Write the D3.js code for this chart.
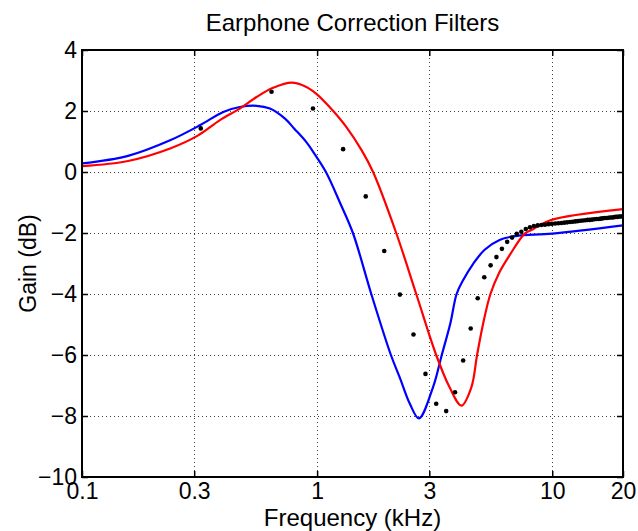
<!DOCTYPE html>
<html>
<head>
<meta charset="utf-8">
<script src="https://cdn.jsdelivr.net/npm/d3@7"></script>
<style>
  body { margin: 0; background: #fff; }
  text { font-family: "Liberation Sans", Arial, Helvetica, sans-serif; fill: #000; }
</style>
</head>
<body>
<div id="chart"></div>
<script>
// axis ticks
const xTicks = [0.1, 0.3, 1, 3, 10, 20];
const yTicks = [-10, -8, -6, -4, -2, 0, 2, 4];

// red filter
const redFreq = [0.1, 0.157, 0.237, 0.312, 0.386, 0.469, 0.553, 0.65, 0.778, 0.9, 0.99, 1.13, 1.33, 1.55, 1.73, 2.17, 2.64, 3.21, 3.66, 4.11, 4.53, 4.79, 5.08, 5.46, 5.95, 6.6, 7.64, 8.28, 9.75, 20];
const redGain = [0.19, 0.36, 0.77, 1.2, 1.7, 2.08, 2.46, 2.76, 2.93, 2.79, 2.57, 2.13, 1.48, 0.7, 0.0, -2.0, -4.0, -6.0, -7.06, -7.66, -7.06, -6.0, -4.98, -4.0, -3.3, -2.72, -2.02, -1.88, -1.59, -1.22];

// blue filter
const blueFreq = [0.1, 0.157, 0.237, 0.317, 0.399, 0.469, 0.553, 0.63, 0.73, 0.8, 0.9, 0.97, 1.09, 1.25, 1.42, 1.7, 2.06, 2.25, 2.48, 2.71, 3.11, 3.39, 3.69, 3.92, 4.17, 4.61, 5.16, 6.0, 7.0, 10, 20];
const blueGain = [0.28, 0.53, 1.04, 1.53, 1.97, 2.13, 2.17, 2.08, 1.75, 1.42, 0.98, 0.62, 0.0, -1.0, -2.0, -4.0, -6.0, -6.75, -7.6, -8.08, -7.06, -6.0, -4.95, -4.0, -3.56, -3.01, -2.55, -2.22, -2.1, -2.02, -1.75];

// measured points (black dots)
const dotFreq = [0.32, 0.64, 0.96, 1.29, 1.61, 1.93, 2.25, 2.57, 2.89, 3.21, 3.54, 3.86, 4.18, 4.5, 4.82, 5.14, 5.47, 5.79, 6.11, 6.43, 6.75, 7.07, 7.39, 7.72,
  8.04, 8.36, 8.68, 9.0, 9.32, 9.65, 9.97, 10.29, 10.61, 10.93, 11.25, 11.57, 11.9, 12.22, 12.54, 12.86, 13.18, 13.5, 13.83,
  14.15, 14.47, 14.79, 15.11, 15.43, 15.75, 16.08, 16.4, 16.72, 17.04, 17.36, 17.68, 18.0, 18.33, 18.65, 18.97, 19.29, 19.61, 19.93];
const dotGain = [1.43, 2.63, 2.08, 0.75, -0.8, -2.59, -4.02, -5.33, -6.62, -7.6, -7.84, -7.22, -6.18, -5.13, -4.14, -3.45, -3.06, -2.79, -2.52, -2.29, -2.15, -2.03, -1.96, -1.87,
  -1.81, -1.77, -1.75, -1.74, -1.73, -1.71, -1.7, -1.69, -1.68, -1.67, -1.66, -1.65, -1.64, -1.63, -1.62, -1.61, -1.6, -1.59, -1.58,
  -1.57, -1.57, -1.56, -1.55, -1.54, -1.54, -1.53, -1.52, -1.51, -1.51, -1.5, -1.49, -1.49, -1.48, -1.47, -1.47, -1.46, -1.46, -1.45];

const width = 638, height = 531;
const plotL = 82, plotR = 623, plotT = 50, plotB = 477;

const svg = d3.select("#chart").append("svg")
    .attr("width", width)
    .attr("height", height);

const x = d3.scaleLog().domain([0.1, 20]).range([plotL, plotR]);
const y = d3.scaleLinear().domain([-10, 4]).range([plotB, plotT]);

svg.append("clipPath").attr("id", "plot-clip")
  .append("rect")
    .attr("x", plotL).attr("y", plotT)
    .attr("width", plotR - plotL).attr("height", plotB - plotT);

// dotted grid
const grid = svg.append("g")
    .attr("stroke", "#000")
    .attr("stroke-width", 1)
    .attr("stroke-dasharray", "1,3")
    .attr("opacity", 0.75);

grid.selectAll("line.v")
  .data(xTicks.filter(d => d > 0.1 && d < 20))
  .join("line")
    .attr("class", "v")
    .attr("x1", d => Math.round(x(d)) + 0.5).attr("x2", d => Math.round(x(d)) + 0.5)
    .attr("y1", plotT).attr("y2", plotB);

grid.selectAll("line.h")
  .data(yTicks.filter(d => d > -10 && d < 4))
  .join("line")
    .attr("class", "h")
    .attr("y1", d => Math.round(y(d)) + 0.5).attr("y2", d => Math.round(y(d)) + 0.5)
    .attr("x1", plotL).attr("x2", plotR);

// filter curves
function toPoints(fs, gs) {
    return fs.map((f, i) => [f, gs[i]]);
}

const line = d3.line()
    .x(d => x(d[0]))
    .y(d => y(d[1]))
    .curve(d3.curveCatmullRom.alpha(0.5));

const plot = svg.append("g").attr("clip-path", "url(#plot-clip)");

plot.append("path")
    .datum(toPoints(blueFreq, blueGain))
    .attr("fill", "none")
    .attr("stroke", "#0000ff")
    .attr("stroke-width", 2.2)
    .attr("d", line);

plot.append("path")
    .datum(toPoints(redFreq, redGain))
    .attr("fill", "none")
    .attr("stroke", "#ff0000")
    .attr("stroke-width", 2.2)
    .attr("d", line);

plot.selectAll("circle")
  .data(toPoints(dotFreq, dotGain))
  .join("circle")
    .attr("cx", d => x(d[0]))
    .attr("cy", d => y(d[1]))
    .attr("r", 2.3)
    .attr("fill", "#000");

// axes, ticks pointing inward on all four sides
const fmtX = d => String(d);
const fmtY = d => d < 0 ? "\u2212" + Math.abs(d) : String(d);

const axBottom = svg.append("g")
    .attr("transform", `translate(0,${plotB})`)
    .call(d3.axisBottom(x).tickValues(xTicks).tickFormat(fmtX).tickSizeInner(-6).tickSizeOuter(0).tickPadding(6));
const axTop = svg.append("g")
    .attr("transform", `translate(0,${plotT})`)
    .call(d3.axisTop(x).tickValues(xTicks).tickFormat("").tickSizeInner(-6).tickSizeOuter(0));
const axLeft = svg.append("g")
    .attr("transform", `translate(${plotL},0)`)
    .call(d3.axisLeft(y).tickValues(yTicks).tickFormat(fmtY).tickSizeInner(-6).tickSizeOuter(0).tickPadding(5));
const axRight = svg.append("g")
    .attr("transform", `translate(${plotR},0)`)
    .call(d3.axisRight(y).tickValues(yTicks).tickFormat("").tickSizeInner(-6).tickSizeOuter(0));

[axBottom, axTop, axLeft, axRight].forEach(a => {
    a.select(".domain").remove();
    a.selectAll("line").attr("stroke", "#000").attr("stroke-width", 1.5);
    a.selectAll("text")
        .style("font-family", "'Liberation Sans', Arial, sans-serif")
        .style("font-size", "23px")
        .attr("fill", "#000");
});

// box
svg.append("rect")
    .attr("x", plotL).attr("y", plotT)
    .attr("width", plotR - plotL).attr("height", plotB - plotT)
    .attr("fill", "none")
    .attr("stroke", "#000")
    .attr("stroke-width", 2);

// labels
svg.append("text")
    .attr("x", (plotL + plotR) / 2)
    .attr("y", 31)
    .attr("text-anchor", "middle")
    .style("font-size", "24px")
    .text("Earphone Correction Filters");

svg.append("text")
    .attr("x", (plotL + plotR) / 2)
    .attr("y", 526)
    .attr("text-anchor", "middle")
    .style("font-size", "24px")
    .text("Frequency (kHz)");

svg.append("text")
    .attr("transform", `translate(36,${(plotT + plotB) / 2}) rotate(-90)`)
    .attr("text-anchor", "middle")
    .style("font-size", "23px")
    .text("Gain (dB)");
</script>
</body>
</html>
